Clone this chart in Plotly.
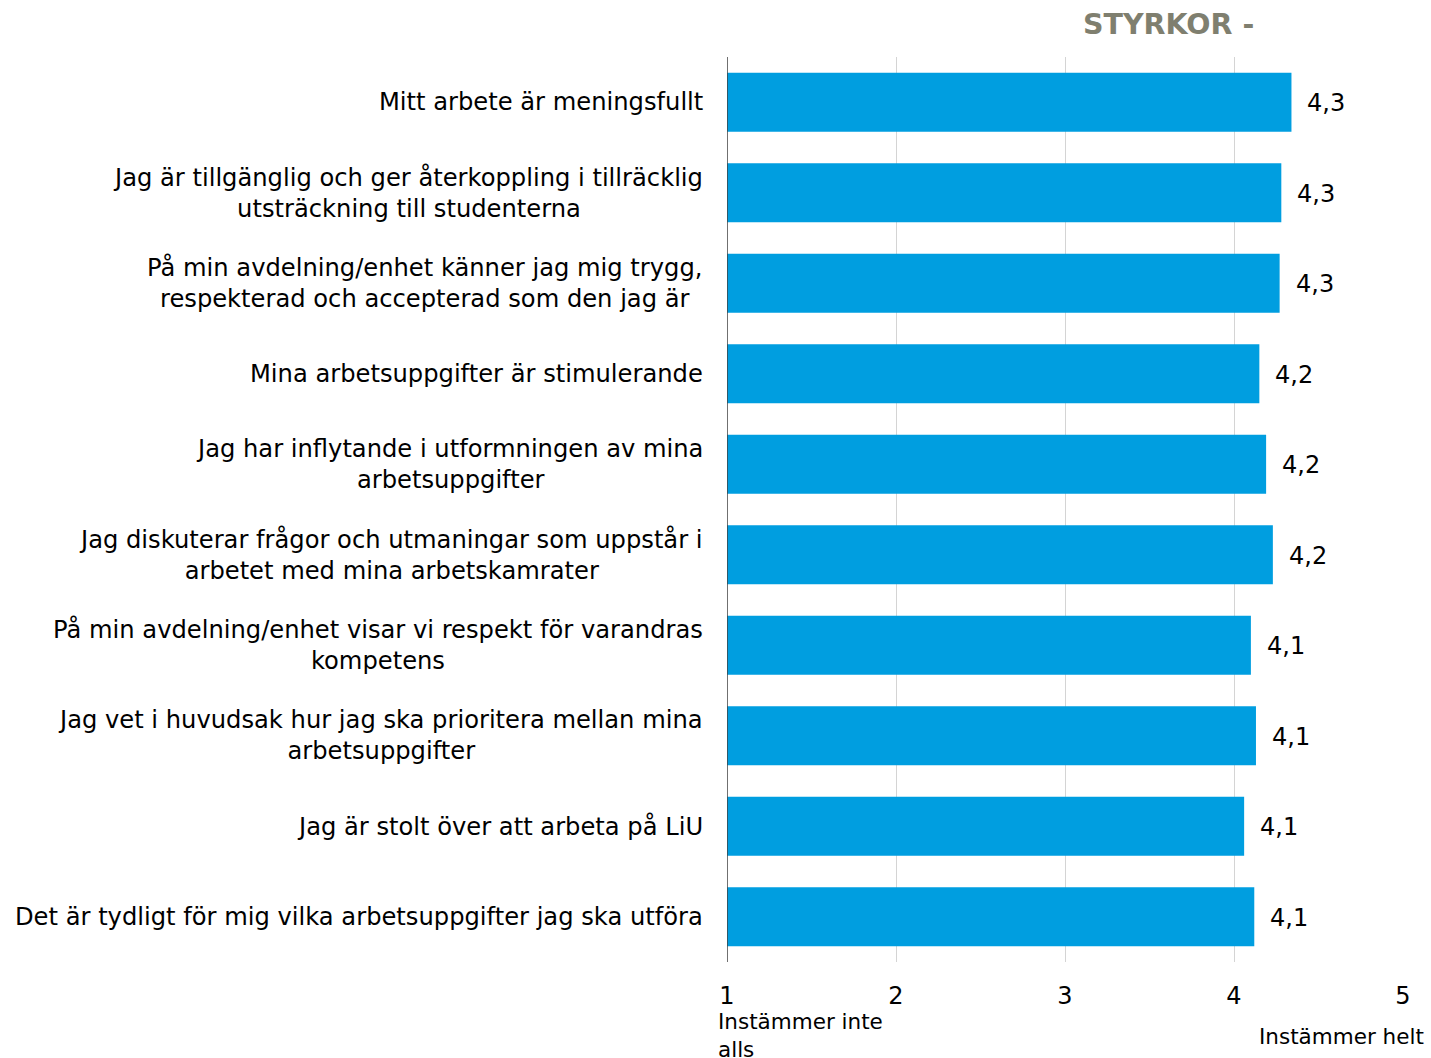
import plotly.graph_objects as go

# Survey statements (top to bottom) and their mean scores on a 1–5 scale
statements = [
    "Mitt arbete är meningsfullt",
    "Jag är tillgänglig och ger återkoppling i tillräcklig<br>utsträckning till studenterna",
    "På min avdelning/enhet känner jag mig trygg,<br>respekterad och accepterad som den jag är",
    "Mina arbetsuppgifter är stimulerande",
    "Jag har inflytande i utformningen av mina<br>arbetsuppgifter",
    "Jag diskuterar frågor och utmaningar som uppstår i<br>arbetet med mina arbetskamrater",
    "På min avdelning/enhet visar vi respekt för varandras<br>kompetens",
    "Jag vet i huvudsak hur jag ska prioritera mellan mina<br>arbetsuppgifter",
    "Jag är stolt över att arbeta på LiU",
    "Det är tydligt för mig vilka arbetsuppgifter jag ska utföra",
]
scores = [4.34, 4.28, 4.27, 4.15, 4.19, 4.23, 4.10, 4.13, 4.06, 4.12]

tick_values = [1, 2, 3, 4, 5]
tick_labels = ["1", "2", "3", "4", "5"]
low_anchor = "Instämmer inte<br>alls"
high_anchor = "Instämmer helt"
heading = "STYRKOR -"

FONT = "DejaVu Sans"
BAR_BLUE = "#009EE0"
SCALE_MIN = 1
positions = list(range(len(statements)))

# Bars start at the scale minimum: length = score - 1, base = 1
fig = go.Figure(
    go.Bar(
        x=[s - SCALE_MIN for s in scores],
        y=positions,
        base=SCALE_MIN,
        orientation="h",
        marker=dict(color=BAR_BLUE, line=dict(width=0)),
        hoverinfo="skip",
    )
)

annotations = []
for pos, text in zip(positions, statements):
    annotations.append(dict(
        xref="paper", yref="y", x=0, y=pos, text=text,
        xanchor="right", yanchor="middle", align="center", xshift=-22,
        showarrow=False, font=dict(family=FONT, size=24.2, color="#000000"),
    ))
for pos, s in zip(positions, scores):
    annotations.append(dict(
        xref="x", yref="y", x=s, y=pos, text=f"{s:.1f}".replace(".", ","),
        xanchor="left", yanchor="middle", xshift=14, yshift=-1,
        showarrow=False, font=dict(family=FONT, size=24, color="#000000"),
    ))
annotations.append(dict(
    xref="x", yref="paper", x=1, y=0, text=low_anchor,
    xanchor="left", yanchor="top", align="left", xshift=-11, yshift=-45,
    showarrow=False, font=dict(family=FONT, size=21.5, color="#000000"),
))
annotations.append(dict(
    xref="x", yref="paper", x=5, y=0, text=high_anchor,
    xanchor="center", yanchor="top", align="center", xshift=-62, yshift=-60,
    showarrow=False, font=dict(family=FONT, size=21.5, color="#000000"),
))
annotations.append(dict(
    xref="paper", yref="paper", x=(1168 - 727) / 676, y=1, text=f"<b>{heading}</b>",
    xanchor="center", yanchor="middle", yshift=33,
    showarrow=False, font=dict(family=FONT, size=28.5, color="#7F7F6F"),
))

fig.update_layout(
    width=1431, height=1058,
    margin=dict(l=727, r=28, t=57, b=96),
    paper_bgcolor="white", plot_bgcolor="white",
    bargap=0.35,
    showlegend=False,
    annotations=annotations,
    xaxis=dict(
        range=[1, 5], tickvals=tick_values, ticktext=tick_labels,
        showgrid=True, gridcolor="#D4D4D4", gridwidth=1,
        zeroline=False, showline=False,
        ticks="", ticklabelstandoff=17,
        tickfont=dict(family=FONT, size=24, color="#000000"),
    ),
    yaxis=dict(
        range=[len(statements) - 0.5, -0.5],
        showticklabels=False, showgrid=False, zeroline=False,
        showline=False, ticks="",
    ),
    shapes=[dict(
        type="line", xref="x", yref="paper", x0=1, x1=1, y0=0, y1=1,
        line=dict(color="#404040", width=1.5), layer="above",
    )],
)

fig.write_html("out.html")
